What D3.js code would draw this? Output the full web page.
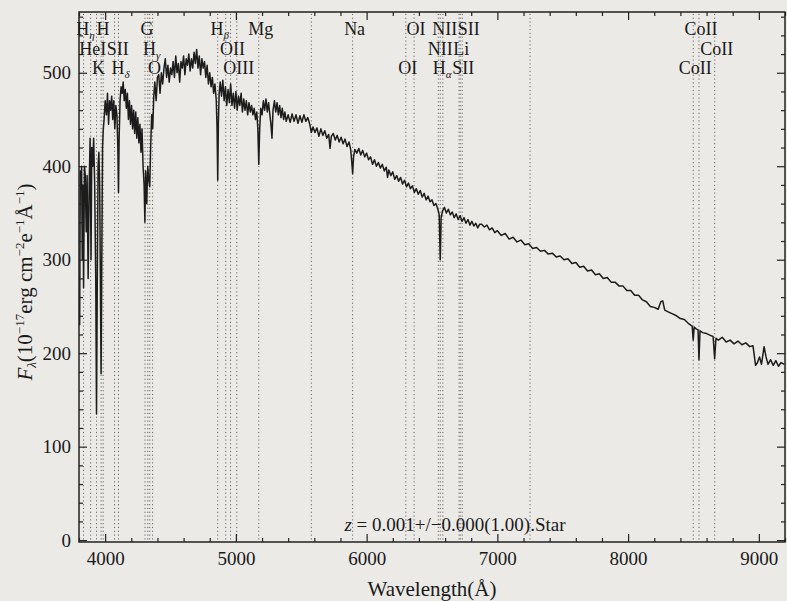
<!DOCTYPE html>
<html><head><meta charset="utf-8">
<script src="https://cdn.jsdelivr.net/npm/d3@7"></script>
<style>
html,body{margin:0;padding:0;background:#ebeae7;}
svg{display:block;}
text{font-family:"Liberation Serif","Times New Roman",serif;fill:#1a1a1a;}
</style></head>
<body>
<svg id="chart" width="787" height="601"></svg>
<script>
// ---- spectrum (wavelength in Å, flux in 1e-17 erg cm^-2 s^-1 Å^-1) ----
const waves = [3805,3810,3815,3820,3825,3830,3835,3842,3848,3855,3862,3870,3878,3885,3892,3898,3905,3912,3920,3928,3934,3940,3946,3952,3958,3965,3969,3974,3980,3986,3992,
4000,4010,4018,4026,4034,4042,4050,4058,4066,4074,4082,4090,4097,4102,4107,4114,4122,4130,4138,4146,4154,4162,4170,4178,4186,4194,4202,4210,4218,4226,4234,4242,4250,4258,4266,4274,4282,4290,4298,4304,4310,4318,4326,4334,4341,4348,4356,4364,4372,4380,4390,
4400,4410,4420,4430,4440,4450,4460,4470,4480,4490,4500,4510,4520,4530,4540,4550,4560,4570,4580,4590,4600,4610,4620,4630,4640,4650,4660,4670,4680,4690,4700,4710,4720,4730,4740,4750,4760,4770,4780,4790,4800,4810,4820,4830,4840,4850,4856,4861,4866,4872,4880,4890,4900,4910,4920,4930,4940,4950,4960,4970,4980,4990,
5000,5010,5020,5030,5040,5050,5060,5070,5080,5090,5100,5110,5120,5130,5140,5150,5160,5168,5175,5182,5190,5200,5210,5220,5230,5240,5250,5260,5268,5276,5284,5295,5305,5315,5325,5335,5345,5355,5365,5375,5385,5400,5415,5430,5445,5460,5475,5490,5505,5520,5535,5550,5565,5577,5590,5605,5620,5635,5650,5665,5680,5695,5710,5720,5730,5745,5760,5775,5790,5805,5820,5835,5850,5865,5878,5886,5893,5900,5910,5925,5940,5955,5970,5985,
6000,6015,6030,6045,6060,6075,6090,6105,6120,6135,6150,6160,6170,6185,6200,6215,6230,6245,6260,6275,6290,6305,6320,6335,6350,6365,6380,6395,6410,6425,6440,6455,6470,6485,6500,6515,6530,6545,6555,6563,6570,6580,6595,6610,6625,6640,6655,6670,6685,6700,6715,6730,6745,6760,6775,6790,6805,6820,6835,6850,6865,6880,6900,6920,6940,6960,6980,
7000,7030,7060,7090,7120,7150,7180,7210,7240,7270,7300,7330,7360,7390,7420,7450,7480,7510,7540,7570,7600,7630,7660,7690,7720,7750,7780,7810,7840,7870,7900,7930,7960,7990,
8020,8050,8080,8110,8140,8170,8200,8230,8250,8265,8280,8310,8340,8370,8400,8430,8460,8490,8498,8505,8520,8535,8542,8550,8570,8600,8630,8650,8662,8672,8690,8720,8750,8780,8810,8840,8870,8900,8930,8955,8975,8990,9005,9020,9040,9055,9070,9090,9110,9130,9150,9170,9195];
const flux = [230,395,380,400,300,380,270,400,390,330,390,280,380,430,300,420,400,430,380,280,135,280,400,415,380,250,178,290,420,440,450,
470,455,478,445,470,460,475,450,470,440,465,455,420,372,430,470,485,478,490,470,482,462,478,450,470,445,465,440,460,435,458,430,452,425,445,415,440,400,380,340,395,360,400,385,378,420,455,440,475,490,470,
495,498,478,500,488,505,515,495,508,490,505,498,512,495,518,500,510,490,512,505,518,498,515,508,520,502,515,505,522,510,525,505,518,498,515,505,512,495,508,488,500,485,495,478,488,470,440,385,445,478,490,475,492,470,485,465,482,468,488,465,478,462,
480,460,475,465,478,458,472,460,470,455,468,458,465,455,462,450,458,440,402,440,462,455,470,460,472,458,468,455,445,430,460,470,458,468,455,465,452,462,450,458,448,455,447,456,448,455,446,454,447,455,448,452,445,436,442,436,441,432,440,433,438,430,434,419,432,435,428,433,426,431,424,429,421,426,418,405,392,410,418,414,419,412,417,410,
414,407,410,402,407,400,404,398,402,395,399,388,396,390,394,386,390,384,388,381,385,378,382,376,379,372,376,370,374,367,371,364,368,362,364,358,360,354,348,300,345,352,356,350,354,348,351,345,349,343,347,341,345,339,343,337,341,336,339,334,338,338,335,337,332,334,329,
331,326,328,322,324,319,321,316,317,312,313,309,310,306,307,303,304,300,301,296,297,292,293,288,289,284,285,280,281,276,276,272,272,267,
267,262,262,257,255,250,249,247,255,256,246,244,242,240,237,236,232,229,214,228,226,225,193,224,222,221,219,218,194,216,214,217,212,214,210,213,209,211,207,208,187,190,196,188,207,196,188,193,187,192,186,190,188];

// ---- identified line positions (Å) ----
const lineWaves = [3835,3889,3934,3969,3985,4072,4102,4305,4326,4341,4363,4861,4922,4959,5007,5175,5577,5893,6300,6363,6548,6563,6583,6707,6716,6731,7250,8498,8542,8662];

// ---- line labels: text ("_" marks a subscript), wavelength, row ----
const labelTexts = ["H_η","H","G","H_β","Mg","Na","OI","NII","SII","CoII",
                    "HeI","SII","H_γ","OII","NII","Li","CoII",
                    "K","H_δ","O","OIII","OI","H_α","SII","CoII"];
const labelWaves = [3835,3969,4305,4861,5175,5893,6363,6583,6731,8542,
                    3889,4072,4341,4959,6548,6707,8662,
                    3934,4102,4363,5007,6300,6563,6716,8498];
const labelRows  = [0,0,0,0,0,0,0,0,0,0,
                    1,1,1,1,1,1,1,
                    2,2,2,2,2,2,2,2];

// ---- axis ticks ----
const xMajor = [4000,5000,6000,7000,8000,9000];
const yMajor = [0,100,200,300,400,500];

const svg = d3.select("#chart");
const L = 79, R = 785, T = 12, B = 542;
const x = d3.scaleLinear().domain([3800, 9200]).range([L, R]);
const y = d3.scaleLinear().domain([-2, 565]).range([B, T]);

const xMinor = d3.range(3800, 9201, 200).filter(v => v % 1000 !== 0);
const yMinor = d3.range(20, 565, 20).filter(v => v % 100 !== 0);

// dotted line markers
svg.append("g").selectAll("line").data(lineWaves).join("line")
  .attr("x1", d => x(d)).attr("x2", d => x(d))
  .attr("y1", y(563)).attr("y2", y(0))
  .attr("stroke", "#666").attr("stroke-width", 1)
  .attr("stroke-dasharray", "1.2,2.6");

// spectrum
const pts = waves.map((w, i) => [w, flux[i]]);
svg.append("path").datum(pts)
  .attr("fill", "none").attr("stroke", "#1c1c1c").attr("stroke-width", 1.5)
  .attr("stroke-linejoin", "round")
  .attr("d", d3.line().x(d => x(d[0])).y(d => y(d[1])));

// axes
function styleAxis(g){ g.select(".domain").remove(); g.selectAll("line").attr("stroke","#222").attr("stroke-width",1.2); }
svg.append("g").attr("transform", `translate(0,${B})`)
  .call(d3.axisBottom(x).tickValues(xMajor).tickSize(-8).tickPadding(10).tickFormat(d3.format("d")))
  .call(styleAxis).call(g => g.selectAll("text").attr("font-size", 19).attr("font-family","Liberation Serif").attr("fill","#1a1a1a"));
svg.append("g").attr("transform", `translate(0,${B})`)
  .call(d3.axisBottom(x).tickValues(xMinor).tickSize(-4).tickFormat(""))
  .call(styleAxis);
svg.append("g").attr("transform", `translate(0,${T})`)
  .call(d3.axisTop(x).tickValues(xMajor).tickSize(-8).tickFormat(""))
  .call(styleAxis);
svg.append("g").attr("transform", `translate(0,${T})`)
  .call(d3.axisTop(x).tickValues(xMinor).tickSize(-4).tickFormat(""))
  .call(styleAxis);
svg.append("g").attr("transform", `translate(${L},0)`)
  .call(d3.axisLeft(y).tickValues(yMajor).tickSize(-8).tickPadding(8).tickFormat(d3.format("d")))
  .call(styleAxis).call(g => g.selectAll("text").attr("font-size", 19).attr("font-family","Liberation Serif").attr("fill","#1a1a1a"));
svg.append("g").attr("transform", `translate(${L},0)`)
  .call(d3.axisLeft(y).tickValues(yMinor).tickSize(-4).tickFormat(""))
  .call(styleAxis);
svg.append("g").attr("transform", `translate(${R},0)`)
  .call(d3.axisRight(y).tickValues(yMajor).tickSize(-8).tickFormat(""))
  .call(styleAxis);
svg.append("g").attr("transform", `translate(${R},0)`)
  .call(d3.axisRight(y).tickValues(yMinor).tickSize(-4).tickFormat(""))
  .call(styleAxis);

// frame
svg.append("rect").attr("x", L).attr("y", T).attr("width", R - L).attr("height", B - T)
  .attr("fill", "none").attr("stroke", "#222").attr("stroke-width", 1.5);

// line labels (row by row, nudged right when they would collide)
const rowBase = [35, 55, 74];
const lab = svg.append("g").attr("font-size", 18);
[0, 1, 2].forEach(r => {
  const idx = labelTexts.map((t, i) => i).filter(i => labelRows[i] === r)
    .sort((a, b) => labelWaves[a] - labelWaves[b]);
  let prevRight = -Infinity;
  idx.forEach(i => {
    const parts = labelTexts[i].split("_");
    const tx = lab.append("text").attr("y", rowBase[r]).attr("text-anchor", "start");
    tx.append("tspan").text(parts[0]);
    if (parts.length > 1) {
      tx.append("tspan").attr("font-size", 11).attr("font-style", "italic").attr("dy", 4).text(parts[1]);
    }
    const w = tx.node().getComputedTextLength();
    let left = x(labelWaves[i]) + 2 - w / 2;
    if (left < prevRight + 0.5) left = prevRight + 0.5;
    tx.attr("x", left);
    prevRight = left + w;
  });
});

// redshift annotation
const zt = svg.append("text").attr("x", 455).attr("y", 531).attr("text-anchor", "middle").attr("font-size", 19);
zt.append("tspan").attr("font-style", "italic").text("z");
zt.append("tspan").text(" = 0.001+/\u22120.000(1.00).Star");

// axis titles
svg.append("text").attr("x", (L + R) / 2).attr("y", 596).attr("text-anchor", "middle")
  .attr("font-size", 21).text("Wavelength(Å)");

const yl = svg.append("text").attr("transform", `translate(32,282) rotate(-90)`)
  .attr("text-anchor", "middle").attr("font-size", 21);
yl.append("tspan").attr("font-style", "italic").text("F");
yl.append("tspan").attr("font-size", 13).attr("font-style", "italic").attr("dy", 4).text("λ");
yl.append("tspan").attr("dy", -4).text("(10");
yl.append("tspan").attr("font-size", 13).attr("dy", -8).text("\u221217");
yl.append("tspan").attr("dy", 8).text("erg cm");
yl.append("tspan").attr("font-size", 13).attr("dy", -8).text("\u22122");
yl.append("tspan").attr("dy", 8).text("e");
yl.append("tspan").attr("font-size", 13).attr("dy", -8).text("\u22121");
yl.append("tspan").attr("dy", 8).text("Å");
yl.append("tspan").attr("font-size", 13).attr("dy", -8).text("\u22121");
yl.append("tspan").attr("dy", 8).text(")");
</script>
</body></html>
